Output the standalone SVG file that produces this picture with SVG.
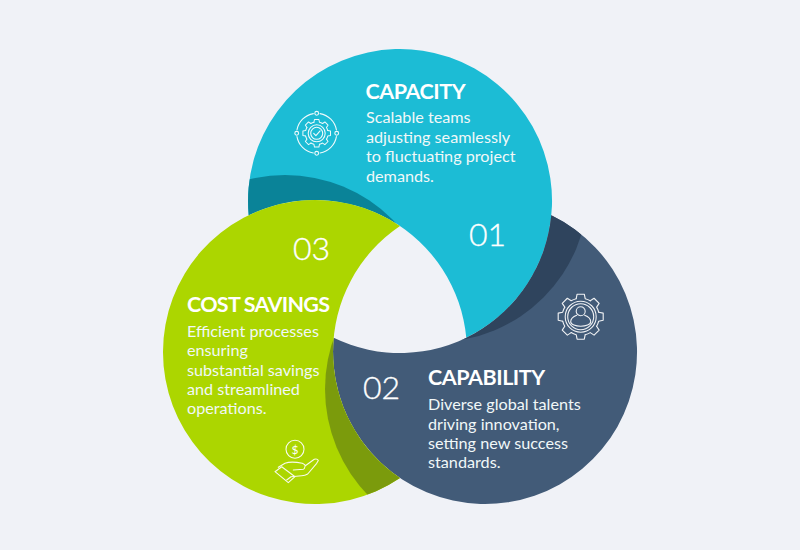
<svg xmlns="http://www.w3.org/2000/svg" width="800" height="550" viewBox="0 0 800 550">
<style>
text{font-family:Lato,"Liberation Sans",sans-serif;fill:#fff}
.t{font-size:21.5px;font-weight:700;letter-spacing:-.45px}
.b{font-size:16.2px;fill:#f1f8f8}
.n{font-size:32px;font-weight:300;stroke:#fff;stroke-width:.35}
.i{fill:none;stroke:#fff;stroke-width:1.1;stroke-linejoin:round;stroke-linecap:round;opacity:.92}
</style>
<defs>
<path id="cBlue" d="M248.7 215.2A152 152 0 1 1 466.3 337.8A152 152 0 0 0 248.7 215.2Z"/>
<path id="cNavy" d="M551.3 215.2A152 152 0 1 1 333.7 337.8A152 152 0 0 0 551.3 215.2Z"/>
<path id="cGreen" d="M400 478A152 152 0 1 1 400 226A152 152 0 0 0 400 478Z"/>
<clipPath id="clipBlue"><use href="#cBlue"/></clipPath>
<clipPath id="clipNavy"><use href="#cNavy"/></clipPath>
<clipPath id="clipGreen"><use href="#cGreen"/></clipPath>
<path id="tooth" d="M-3-12L-2.4-15H2.4L3-12A12.4 12.4 0 0 1 6.36-10.6"/>
<g id="gear">
<use href="#tooth"/><use href="#tooth" transform="rotate(45)"/><use href="#tooth" transform="rotate(90)"/><use href="#tooth" transform="rotate(135)"/><use href="#tooth" transform="rotate(180)"/><use href="#tooth" transform="rotate(225)"/><use href="#tooth" transform="rotate(270)"/><use href="#tooth" transform="rotate(315)"/>
</g>
</defs>
<rect width="800" height="550" fill="#f0f2f7"/>
<g id="capacity">
<use href="#cBlue" fill="#1cbcd5"/>
<circle cx="285" cy="327" r="152" fill="#0a8398" clip-path="url(#clipBlue)"/>
<g class="i" transform="translate(316.7 133.3)">
<use href="#gear" transform="scale(.92)"/>
<circle r="8.5"/><circle r="6"/>
<path d="M-3 0L-.8 2.3L3.4-2.4"/>
<circle r="20" pathLength="360" stroke-dasharray="70 20" stroke-dashoffset="-10"/>
<circle cx="0" cy="-20" r="1.9"/><circle cx="20" cy="0" r="1.9"/><circle cx="0" cy="20" r="1.9"/><circle cx="-20" cy="0" r="1.9"/>
</g>
<text class="t" x="365.500" y="99">CAPACITY</text>
<text class="b" x="366" y="123">Scalable teams</text>
<text class="b" x="366" y="143">adjusting seamlessly</text>
<text class="b" x="366" y="162">to fluctuating project</text>
<text class="b" x="366" y="182">demands.</text>
<text class="n" x="469" y="246">01</text>
</g>
<g id="capability">
<use href="#cNavy" fill="#425b78"/>
<circle cx="436" cy="190" r="152" fill="#2f445d" clip-path="url(#clipNavy)"/>
<g class="i" transform="translate(580.7 316.700)">
<use href="#gear" transform="scale(1.5)" stroke-width=".75"/>
<circle r="15.500"/><circle r="13"/>
<circle cy="-5.500" r="4.500"/>
<path d="M-4-1.500C-8 0-10 2.500-10 5C-10 8-5 9.500 0 9.500C5 9.500 10 8 10 5C10 2.500 8 0 4-1.500"/>
</g>
<text class="t" x="428" y="385">CAPABILITY</text>
<text class="b" x="428" y="410">Diverse global talents</text>
<text class="b" x="428" y="430">driving innovation,</text>
<text class="b" x="428" y="449">setting new success</text>
<text class="b" x="428" y="468">standards.</text>
<text class="n" x="363" y="399">02</text>
</g>
<g id="cost-savings">
<use href="#cGreen" fill="#acd600"/>
<circle cx="478" cy="389" r="153" fill="#7b9b0c" clip-path="url(#clipGreen)"/>
<g class="i">
<circle cx="295" cy="449.300" r="9"/>
<path d="M278.300 467.300L285 463.300Q291 461 302.300 463.300Q306 465 305 466.500Q304.500 469 303.300 469.300L293.300 470M305 466L314.300 459.300Q317.500 458.500 318.300 460.500L316.700 463.300L307.700 474Q305 475.500 301.700 475.700L291 476.700L286.700 480"/>
<path d="M275 471.700L281.700 466.700L295 476.700L288.300 482.700Z"/>
</g>
<text x="295" y="453.500" text-anchor="middle" font-size="12">$</text>
<text class="t" x="187" y="312" style="letter-spacing:-.7px" word-spacing="-.3">COST SAVINGS</text>
<text class="b" x="187" y="337">Efficient processes</text>
<text class="b" x="187" y="356">ensuring</text>
<text class="b" x="187" y="375.500">substantial savings</text>
<text class="b" x="187" y="395">and streamlined</text>
<text class="b" x="187" y="414">operations.</text>
<text class="n" x="293" y="260">03</text>
</g>
</svg>
